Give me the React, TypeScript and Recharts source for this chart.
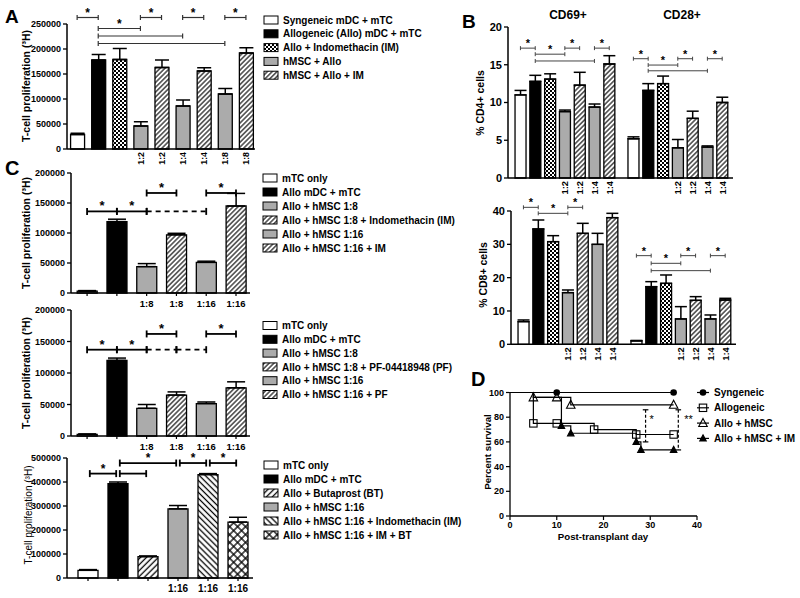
import React from "react";
import {
  BarChart,
  Bar,
  XAxis,
  YAxis,
  Cell,
  ErrorBar,
  ReferenceLine,
  ReferenceDot,
  LineChart,
  Line,
} from "recharts";

const W = 800;
const H = 598;
const FONT = "'Liberation Sans', Arial, Helvetica, sans-serif";
const GREY = "#ababab";

// [from bar, to bar, level, label, dashed]
type Sig = [number, number, number, string, boolean?];

// ---- A: hMSC titration ----
const aLegend = [
  "Syngeneic mDC + mTC",
  "Allogeneic (Allo) mDC + mTC",
  "Allo + Indomethacin (IM)",
  "hMSC + Allo",
  "hMSC + Allo + IM",
];
const aGroup = [0, 1, 2, 3, 4, 3, 4, 3, 4];
const aRatio = ["", "", "", "1:2", "1:2", "1:4", "1:4", "1:8", "1:8"];
const aValues = [29000, 178000, 179000, 46000, 163000, 86000, 156000, 110000, 192000];
const aErrors = [2500, 11000, 22000, 8500, 15000, 12000, 6500, 11000, 10500];
const aTicks = [0, 50000, 100000, 150000, 200000, 250000];
const aSig: Sig[] = [
  [0, 1, 263000, "*"],
  [3, 4, 263000, "*"],
  [5, 6, 263000, "*"],
  [7, 8, 263000, "*"],
  [1, 3, 241000, "*"],
  [1, 5, 226000, ""],
  [1, 7, 211000, ""],
];

// ---- B: activation markers ----
const bGroup = [0, 1, 2, 3, 4, 3, 4, 0, 1, 2, 3, 4, 3, 4];
const bRatio = ["", "", "", "1:2", "1:2", "1:4", "1:4", "", "", "", "1:2", "1:2", "1:4", "1:4"];
const bCd4Values = [11.0, 12.8, 13.1, 8.8, 12.3, 9.4, 15.1, 5.2, 11.6, 12.5, 4.0, 7.9, 4.1, 10.0];
const bCd4Errors = [0.6, 0.8, 0.7, 0.2, 1.7, 0.4, 1.1, 0.25, 0.9, 1.0, 1.1, 0.95, 0.15, 0.7];
const bCd8Values = [6.8, 34.6, 30.8, 15.5, 33.3, 30.0, 38.0, 1.0, 17.3, 18.3, 7.6, 13.2, 7.6, 13.3];
const bCd8Errors = [0.5, 2.7, 1.8, 0.8, 3.0, 3.3, 1.3, 0.15, 1.5, 2.5, 3.7, 1.1, 1.2, 0.5];
const bCd4Ticks = [0, 5, 10, 15, 20];
const bCd8Ticks = [0, 10, 20, 30, 40];
const bCd4Sig: Sig[] = [
  [0, 1, 17.2, "*"],
  [3, 4, 17.2, "*"],
  [5, 6, 17.2, "*"],
  [1, 3, 16.4, "*"],
  [1, 5, 15.5, ""],
  [7, 8, 15.8, "*"],
  [10, 11, 15.8, "*"],
  [12, 13, 15.8, "*"],
  [8, 10, 14.96, "*"],
  [8, 12, 14.2, ""],
];
const bCd8Sig: Sig[] = [
  [0, 1, 41.1, "*"],
  [3, 4, 41.1, "*"],
  [1, 3, 39.3, "*"],
  [7, 8, 26.6, "*"],
  [10, 11, 26.6, "*"],
  [12, 13, 26.6, "*"],
  [8, 10, 24.3, "*"],
  [8, 12, 22.1, ""],
];

// ---- C: EP2 / COX experiments ----
const cRatio1 = ["", "", "1:8", "1:8", "1:16", "1:16"];
const cRatio3 = ["", "", "", "1:16", "1:16", "1:16"];
const cTicks12 = [0, 50000, 100000, 150000, 200000];
const cTicks3 = [0, 100000, 200000, 300000, 400000, 500000];

const c1Legend = [
  "mTC only",
  "Allo mDC + mTC",
  "Allo + hMSC 1:8",
  "Allo + hMSC 1:8 + Indomethacin (IM)",
  "Allo + hMSC 1:16",
  "Allo + hMSC 1:16 + IM",
];
const c1Values = [3000, 119000, 44000, 97000, 51000, 145000];
const c1Errors = [1000, 4000, 5000, 2500, 2000, 21000];
const c1Sig: Sig[] = [
  [0, 1, 136000, "*"],
  [1, 2, 136000, "*"],
  [2, 4, 136000, "", true],
  [2, 3, 166700, "*"],
  [4, 5, 166700, "*"],
];

const c2Legend = [
  "mTC only",
  "Allo mDC + mTC",
  "Allo + hMSC 1:8",
  "Allo + hMSC 1:8 + PF-04418948 (PF)",
  "Allo + hMSC 1:16",
  "Allo + hMSC 1:16 + PF",
];
const c2Values = [2500, 120000, 44000, 65000, 51500, 76500];
const c2Errors = [800, 3700, 6000, 5000, 2500, 9500];
const c2Sig: Sig[] = [
  [0, 1, 137000, "*"],
  [1, 2, 137000, "*"],
  [2, 3, 137000, "", true],
  [3, 4, 137000, "", true],
  [2, 3, 162000, "*"],
  [4, 5, 162000, "*"],
];

const c3Legend = [
  "mTC only",
  "Allo mDC + mTC",
  "Allo + Butaprost (BT)",
  "Allo + hMSC 1:16",
  "Allo + hMSC 1:16 + Indomethacin (IM)",
  "Allo + hMSC 1:16 + IM + BT",
];
const c3Values = [32000, 393000, 89000, 288000, 431000, 233000];
const c3Errors = [3000, 7000, 3000, 14000, 4000, 20000];
const c3Sig: Sig[] = [
  [0, 1, 435000, "*"],
  [1, 2, 435000, ""],
  [1, 3, 479000, "*"],
  [3, 4, 479000, "*"],
  [4, 5, 479000, "*"],
];

// ---- D: survival ----
const dNames = ["Syngeneic", "Allogeneic", "Allo + hMSC", "Allo + hMSC + IM"];
const dDays = [
  [0, 10, 35],
  [0, 5, 10, 18, 27, 35],
  [0, 5, 10, 13, 35],
  [0, 5, 11, 13, 27, 28, 35],
];
const dPct = [
  [100, 100, 100],
  [100, 75, 75, 70, 66, 66],
  [100, 96, 96, 90, 90],
  [100, 96, 73, 67, 60, 53.5, 53.5],
];
const dCensor = [
  [0, 1, 1],
  [0, 1, 1, 1, 1, 1],
  [0, 1, 1, 1, 1],
  [0, 0, 1, 1, 1, 1, 1],
];
const dDayTicks = [0, 10, 20, 30, 40];
const dPctTicks = [0, 20, 40, 60, 80, 100];
const dSigDay = [29, 36];
const dSigTop = [86, 86];
const dSigBottom = [60, 53.5];
const dSigLabel = ["*", "**"];
const dSigLabelDay = [30.3, 38.2];
const dSigLabelPct = [80, 80];

// ---- styles ----
const FILL = {
  white: "#fff",
  black: "#000",
  grey: GREY,
  check: "url(#pCheck)",
  hatch: "url(#pHatch)",
  hatchWide: "url(#pHatchW)",
  back: "url(#pBack)",
  cross: "url(#pCross)",
};
const abFills = [FILL.white, FILL.black, FILL.check, FILL.grey, FILL.hatch];
const c12Fills = [FILL.white, FILL.black, FILL.grey, FILL.hatch, FILL.grey, FILL.hatch];
const c3Fills = [FILL.white, FILL.black, FILL.hatchWide, FILL.grey, FILL.back, FILL.cross];

interface SigStyle {
  width: number;
  color: string;
  cap: number;
  star: number;
  gap: number;
}
const STY: Record<string, SigStyle> = {
  a: { width: 1.2, color: "#333", cap: 5, star: 12, gap: 0 },
  b: { width: 1, color: "#444", cap: 4, star: 11, gap: 0 },
  c: { width: 1.8, color: "#000", cap: 7, star: 13, gap: 0 },
  c3: { width: 1.8, color: "#000", cap: 7, star: 12, gap: 0.06 },
};

const abs: React.CSSProperties = { position: "absolute", left: 0, top: 0 };

function sigMarks(sig: Sig[], xs: number[], st: SigStyle, perPx: number) {
  const out: React.ReactElement[] = [];
  const d = (st.cap / 2) * perPx;
  sig.forEach(([a, b, lvl, lab, dashed], i) => {
    const x1 = xs[a] + st.gap;
    const x2 = xs[b] - st.gap;
    out.push(
      <ReferenceLine
        key={`h${i}`}
        segment={[{ x: x1, y: lvl }, { x: x2, y: lvl }]}
        stroke={st.color}
        strokeWidth={st.width}
        strokeDasharray={dashed ? "5 4" : undefined}
        ifOverflow="visible"
      />
    );
    out.push(
      <ReferenceLine
        key={`l${i}`}
        segment={[{ x: x1, y: lvl - d }, { x: x1, y: lvl + d }]}
        stroke={st.color}
        strokeWidth={st.width}
        ifOverflow="visible"
      />
    );
    out.push(
      <ReferenceLine
        key={`r${i}`}
        segment={[{ x: x2, y: lvl - d }, { x: x2, y: lvl + d }]}
        stroke={st.color}
        strokeWidth={st.width}
        ifOverflow="visible"
      />
    );
    if (lab) {
      out.push(
        <ReferenceDot
          key={`s${i}`}
          x={(x1 + x2) / 2}
          y={lvl}
          ifOverflow="visible"
          shape={(p: any) => (
            <text
              x={p.cx}
              y={p.cy - 1}
              textAnchor="middle"
              fontSize={st.star}
              fontWeight="bold"
              fontFamily={FONT}
              fill="#000"
            >
              {lab}
            </text>
          )}
        />
      );
    }
  });
  return out;
}

const rotTick = (labels: string[], fs: number) => (t: any) => {
  const s = labels[t.index] || "";
  if (!s) return <g />;
  return (
    <text
      x={t.x}
      y={t.y}
      transform={`rotate(-90 ${t.x} ${t.y})`}
      textAnchor="end"
      dy="0.36em"
      fontSize={fs}
      fontWeight="bold"
      fontFamily={FONT}
      fill="#000"
    >
      {s}
    </text>
  );
};

const flatTick = (labels: string[], fs: number) => (t: any) => (
  <text
    x={t.x}
    y={t.y + 9}
    textAnchor="middle"
    fontSize={fs}
    fontWeight="bold"
    fontFamily={FONT}
    fill="#000"
  >
    {labels[t.index] || ""}
  </text>
);

interface BarPanelProps {
  plot: [number, number, number, number];
  xDomain: [number, number];
  xs: number[];
  values: number[];
  errors: number[];
  fills: string[];
  labels: string[];
  rotate: boolean;
  yMax: number;
  yTicks: number[];
  yFont: number;
  sig: Sig[];
  barSize: number;
  capW: number;
  st: SigStyle;
  labelSize: number;
}

function BarPanel(p: BarPanelProps) {
  const [left, top, right, bottom] = p.plot;
  const yw = 50;
  const xh = 10;
  const margin = { left: left - yw, top, right: W - right, bottom: H - bottom - xh };
  const rows = p.values.map((v, i) => ({ x: p.xs[i], v, e: [0, p.errors[i]] }));
  const perPx = p.yMax / (bottom - top);
  return (
    <div style={abs}>
      <BarChart width={W} height={H} data={rows} margin={margin}>
        <XAxis
          type="number"
          dataKey="x"
          domain={p.xDomain}
          ticks={p.xs}
          interval={0}
          height={xh}
          axisLine={{ stroke: "#000", strokeWidth: 1.5 }}
          tickLine={p.rotate ? false : { stroke: "#000", strokeWidth: 1.2 }}
          tickSize={p.rotate ? 0 : 3}
          tickMargin={p.rotate ? 3 : 2}
          tick={p.rotate ? rotTick(p.labels, p.labelSize) : flatTick(p.labels, p.labelSize)}
        />
        <YAxis
          type="number"
          domain={[0, p.yMax]}
          ticks={p.yTicks}
          interval={0}
          width={yw}
          axisLine={{ stroke: "#000", strokeWidth: 1.5 }}
          tickLine={{ stroke: "#000", strokeWidth: 1.3 }}
          tickSize={4}
          tickMargin={2}
          tick={{ fill: "#000", fontSize: p.yFont, fontWeight: "bold", fontFamily: FONT }}
        />
        <Bar dataKey="v" barSize={p.barSize} stroke="#000" strokeWidth={1.3} isAnimationActive={false}>
          {rows.map((_, i) => (
            <Cell key={i} fill={p.fills[i]} />
          ))}
          <ErrorBar dataKey="e" width={p.capW} stroke="#000" strokeWidth={1.5} direction="y" />
        </Bar>
        {sigMarks(p.sig, p.xs, p.st, perPx)}
      </BarChart>
    </div>
  );
}

function Marker({ kind, cx, cy }: { kind: number; cx: number; cy: number }) {
  if (kind === 0) return <circle cx={cx} cy={cy} r={3.3} fill="#000" />;
  if (kind === 1)
    return (
      <rect x={cx - 3.7} y={cy - 3.7} width={7.4} height={7.4} fill="none" stroke="#000" strokeWidth={1.1} />
    );
  const s = kind === 2 ? 8.5 : 6.5;
  const d = `M${cx},${cy - s * 0.55} L${cx + s / 2},${cy + s * 0.4} L${cx - s / 2},${cy + s * 0.4} Z`;
  return <path d={d} fill={kind === 2 ? "none" : "#000"} stroke="#000" strokeWidth={1.1} />;
}

const dotFor = (kind: number) => (props: any) => {
  const { cx, cy, payload, index } = props;
  if (!payload || !payload.m) return <g key={`n${index}`} />;
  return (
    <g key={`d${index}`}>
      <Marker kind={kind} cx={cx} cy={cy} />
    </g>
  );
};

function SurvivalPanel() {
  const margin = { left: 510 - 40, top: 392.5, right: W - 697, bottom: H - 516 - 10 };
  const cap = 0.6;
  return (
    <div style={abs}>
      <LineChart width={W} height={H} margin={margin}>
        <XAxis
          type="number"
          dataKey="d"
          domain={[0, 40]}
          ticks={dDayTicks}
          interval={0}
          height={10}
          axisLine={{ stroke: "#000", strokeWidth: 1.3 }}
          tickLine={{ stroke: "#000", strokeWidth: 1.2 }}
          tickSize={4}
          tick={{ fill: "#000", fontSize: 9, fontWeight: "bold", fontFamily: FONT }}
        />
        <YAxis
          type="number"
          domain={[0, 100]}
          ticks={dPctTicks}
          interval={0}
          width={40}
          axisLine={{ stroke: "#000", strokeWidth: 1.3 }}
          tickLine={{ stroke: "#000", strokeWidth: 1.2 }}
          tickSize={4}
          tickMargin={2}
          tick={{ fill: "#000", fontSize: 9, fontWeight: "bold", fontFamily: FONT }}
        />
        {dDays.map((days, k) => (
          <Line
            key={dNames[k]}
            data={days.map((d, i) => ({ d, v: dPct[k][i], m: dCensor[k][i] }))}
            dataKey="v"
            type="stepAfter"
            stroke="#000"
            strokeWidth={1.2}
            dot={dotFor(k)}
            activeDot={false}
            isAnimationActive={false}
          />
        ))}
        {dSigDay.flatMap((d, i) => [
          <ReferenceLine
            key={`v${i}`}
            segment={[{ x: d, y: dSigTop[i] }, { x: d, y: dSigBottom[i] }]}
            stroke="#000"
            strokeWidth={1.2}
            strokeDasharray="3 2"
            ifOverflow="visible"
          />,
          <ReferenceLine
            key={`t${i}`}
            segment={[{ x: d - cap, y: dSigTop[i] }, { x: d + cap, y: dSigTop[i] }]}
            stroke="#000"
            strokeWidth={1.2}
            ifOverflow="visible"
          />,
          <ReferenceLine
            key={`b${i}`}
            segment={[{ x: d - cap, y: dSigBottom[i] }, { x: d + cap, y: dSigBottom[i] }]}
            stroke="#000"
            strokeWidth={1.2}
            ifOverflow="visible"
          />,
          <ReferenceDot
            key={`s${i}`}
            x={dSigLabelDay[i]}
            y={dSigLabelPct[i]}
            ifOverflow="visible"
            shape={(p: any) => (
              <text x={p.cx} y={p.cy} dy="0.55em" textAnchor="middle" fontSize={11} fontFamily={FONT} fill="#000">
                {dSigLabel[i]}
              </text>
            )}
          />,
        ])}
      </LineChart>
    </div>
  );
}

function Swatches({
  x,
  y,
  step,
  names,
  fills,
}: {
  x: number;
  y: number;
  step: number;
  names: string[];
  fills: string[];
}) {
  return (
    <g>
      {names.map((n, i) => (
        <g key={n + i}>
          <rect x={x} y={y + i * step - 4} width={14} height={8} fill={fills[i]} stroke="#000" strokeWidth={1} />
          <text
            x={x + 19}
            y={y + i * step}
            dy="0.36em"
            fontSize={10}
            fontWeight="bold"
            fontFamily={FONT}
            fill="#000"
          >
            {n}
          </text>
        </g>
      ))}
    </g>
  );
}

function VText({ x, y, size, bold, children }: { x: number; y: number; size: number; bold?: boolean; children: string }) {
  return (
    <text
      x={x}
      y={y}
      transform={`rotate(-90 ${x} ${y})`}
      textAnchor="middle"
      dy="0.36em"
      fontSize={size}
      fontWeight={bold ? "bold" : "normal"}
      fontFamily={FONT}
      fill="#000"
    >
      {children}
    </text>
  );
}

function Patterns() {
  return (
    <svg width={0} height={0} style={{ position: "absolute" }}>
      <defs>
        <pattern id="pCheck" width={4} height={4} patternUnits="userSpaceOnUse">
          <rect width={4} height={4} fill="#fff" />
          <rect width={2} height={2} fill="#000" />
          <rect x={2} y={2} width={2} height={2} fill="#000" />
        </pattern>
        <pattern id="pHatch" width={3.4} height={3.4} patternUnits="userSpaceOnUse" patternTransform="rotate(45)">
          <rect width={3.4} height={3.4} fill="#fff" />
          <line x1={1.7} y1={0} x2={1.7} y2={3.4} stroke="#000" strokeWidth={1.1} />
        </pattern>
        <pattern id="pHatchW" width={4.2} height={4.2} patternUnits="userSpaceOnUse" patternTransform="rotate(45)">
          <rect width={4.2} height={4.2} fill="#fff" />
          <line x1={2.1} y1={0} x2={2.1} y2={4.2} stroke="#000" strokeWidth={1.3} />
        </pattern>
        <pattern id="pBack" width={4.2} height={4.2} patternUnits="userSpaceOnUse" patternTransform="rotate(-45)">
          <rect width={4.2} height={4.2} fill="#fff" />
          <line x1={2.1} y1={0} x2={2.1} y2={4.2} stroke="#000" strokeWidth={1.3} />
        </pattern>
        <pattern id="pCross" width={5.6} height={5.6} patternUnits="userSpaceOnUse" patternTransform="rotate(45)">
          <rect width={5.6} height={5.6} fill="#fff" />
          <line x1={2.8} y1={0} x2={2.8} y2={5.6} stroke="#000" strokeWidth={1.3} />
          <line x1={0} y1={2.8} x2={5.6} y2={2.8} stroke="#000" strokeWidth={1.3} />
        </pattern>
      </defs>
    </svg>
  );
}

export default function App() {
  const idx = (n: number) => Array.from({ length: n }, (_, i) => i);
  const bXs = idx(14).map((i) => (i < 7 ? i : i + 0.63));
  return (
    <div
      style={{
        position: "absolute",
        left: 0,
        top: 0,
        width: W,
        height: H,
        overflow: "hidden",
        background: "#fff",
        fontFamily: FONT,
      }}
    >
      <Patterns />
      <BarPanel
        plot={[67, 24, 255, 149]}
        xDomain={[-0.48, 8.43]}
        xs={idx(9)}
        values={aValues}
        errors={aErrors}
        fills={aGroup.map((g) => abFills[g])}
        labels={aRatio}
        rotate
        yMax={250000}
        yTicks={aTicks}
        yFont={9}
        sig={aSig}
        barSize={14}
        capW={7}
        st={STY.a}
        labelSize={8.8}
      />
      <BarPanel
        plot={[71, 173, 250, 293]}
        xDomain={[-0.54, 5.47]}
        xs={idx(6)}
        values={c1Values}
        errors={c1Errors}
        fills={c12Fills}
        labels={cRatio1}
        rotate={false}
        yMax={200000}
        yTicks={cTicks12}
        yFont={9}
        sig={c1Sig}
        barSize={20}
        capW={9}
        st={STY.c}
        labelSize={9.5}
      />
      <BarPanel
        plot={[71, 310, 250, 436]}
        xDomain={[-0.54, 5.47]}
        xs={idx(6)}
        values={c2Values}
        errors={c2Errors}
        fills={c12Fills}
        labels={cRatio1}
        rotate={false}
        yMax={200000}
        yTicks={cTicks12}
        yFont={9}
        sig={c2Sig}
        barSize={20}
        capW={9}
        st={STY.c}
        labelSize={9.5}
      />
      <BarPanel
        plot={[67, 458, 253, 578]}
        xDomain={[-0.7, 5.5]}
        xs={idx(6)}
        values={c3Values}
        errors={c3Errors}
        fills={c3Fills}
        labels={cRatio3}
        rotate={false}
        yMax={500000}
        yTicks={cTicks3}
        yFont={9}
        sig={c3Sig}
        barSize={20}
        capW={9}
        st={STY.c3}
        labelSize={10}
      />
      <BarPanel
        plot={[508, 27, 733, 178]}
        xDomain={[-0.84, 14.36]}
        xs={bXs}
        values={bCd4Values}
        errors={bCd4Errors}
        fills={bGroup.map((g) => abFills[g])}
        labels={bRatio}
        rotate
        yMax={20}
        yTicks={bCd4Ticks}
        yFont={11}
        sig={bCd4Sig}
        barSize={11}
        capW={6}
        st={STY.b}
        labelSize={9.3}
      />
      <BarPanel
        plot={[511, 211, 736, 344.3]}
        xDomain={[-0.84, 14.36]}
        xs={bXs}
        values={bCd8Values}
        errors={bCd8Errors}
        fills={bGroup.map((g) => abFills[g])}
        labels={bRatio}
        rotate
        yMax={40}
        yTicks={bCd8Ticks}
        yFont={11}
        sig={bCd8Sig}
        barSize={11}
        capW={6}
        st={STY.b}
        labelSize={9.3}
      />
      <SurvivalPanel />
      <svg width={W} height={H} style={{ ...abs, pointerEvents: "none" }}>
        <g fontFamily={FONT} fontWeight="bold" fill="#000">
          <text x={5} y={23} fontSize={19}>A</text>
          <text x={5} y={175} fontSize={20}>C</text>
          <text x={462} y={28} fontSize={19}>B</text>
          <text x={471} y={386} fontSize={20}>D</text>
          <text x={568} y={19} fontSize={12} textAnchor="middle">CD69+</text>
          <text x={682} y={19} fontSize={12} textAnchor="middle">CD28+</text>
          <text x={603} y={540} fontSize={9.7} textAnchor="middle">Post-transplant day</text>
        </g>
        <VText x={26} y={86} size={10.5} bold>T-cell proliferation (³H)</VText>
        <VText x={26} y={233} size={10.5} bold>T-cell proliferation (³H)</VText>
        <VText x={26} y={373} size={10.5} bold>T-cell proliferation (³H)</VText>
        <VText x={28} y={515} size={10}>T-cell proliferation (³H)</VText>
        <VText x={480} y={103} size={10.5} bold>% CD4+ cells</VText>
        <VText x={483} y={275} size={10.5} bold>% CD8+ cells</VText>
        <VText x={487} y={452} size={9.8} bold>Percent survival</VText>
        <Swatches x={264} y={20} step={13.8} names={aLegend} fills={abFills} />
        <Swatches x={263} y={178} step={14} names={c1Legend} fills={c12Fills} />
        <Swatches x={263} y={325.5} step={13.8} names={c2Legend} fills={c12Fills} />
        <Swatches x={264} y={465} step={14} names={c3Legend} fills={c3Fills} />
        {dNames.map((n, k) => {
          const y = 392.5 + k * 15.3;
          return (
            <g key={n}>
              <line x1={697} x2={709} y1={y} y2={y} stroke="#000" strokeWidth={1.2} />
              <Marker kind={k} cx={703} cy={y} />
              <text x={714} y={y} dy="0.36em" fontSize={10} fontWeight="bold" fontFamily={FONT} fill="#000">
                {n}
              </text>
            </g>
          );
        })}
      </svg>
    </div>
  );
}
